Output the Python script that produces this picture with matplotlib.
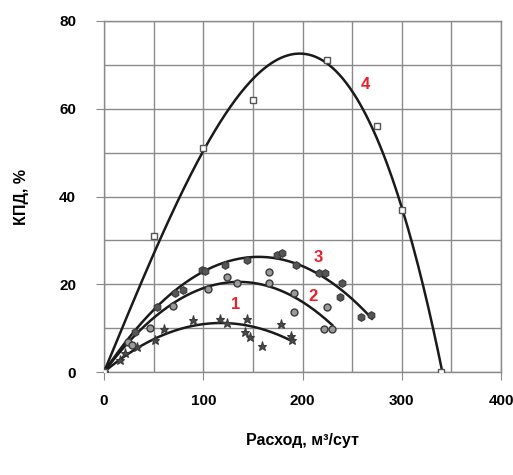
import numpy as np
import matplotlib.pyplot as plt
from matplotlib.ticker import MultipleLocator

plt.rcParams['font.family'] = ['Liberation Sans Narrow', 'Liberation Sans', 'DejaVu Sans']

# curve 1 (stars)
x1 = [0, 16, 21, 33, 51.5, 60, 90, 117, 124, 144, 142, 147.5, 159, 178, 188, 189.6]
y1 = [0, 2.7, 4.3, 5.8, 7.3, 9.7, 11.8, 12, 11.2, 12, 9.2, 7.9, 5.9, 10.9, 8.2, 7.3]
# curve 2 (circles)
x2 = [0, 24.5, 28, 46.5, 70, 105, 124, 134, 166, 166, 191, 191, 225, 221.5, 230]
y2 = [0, 6.9, 6.2, 10, 15, 18.9, 21.7, 20.2, 22.9, 20.3, 18.1, 13.7, 14.9, 9.7, 9.7]
# curve 3 (hexagons)
x3 = [0, 31, 53, 72, 80, 99, 102, 122, 144, 174, 179.5, 193, 216.5, 223, 240, 238, 258.6, 268.7]
y3 = [0, 9.2, 14.9, 17.9, 18.8, 23.2, 23.1, 24.5, 25.5, 26.6, 27.2, 24.5, 22.6, 22.5, 20.4, 17.2, 12.5, 13]
# curve 4 (squares)
x4 = [0, 50, 100, 150, 225, 275, 300, 340]
y4 = [0, 31, 51, 62, 71, 56, 37, 0]

fig = plt.figure(figsize=(5.13, 4.75), dpi=100)
ax = fig.add_axes([0.2027, 0.2168, 0.774, 0.739])

grid_c = '#8a8a8a'
pt_c = '#3a3a3a'

def trend(xs, ys, deg, x_end):
    # polynomial trend line forced through the origin
    xs = np.asarray(xs, float)
    A = np.column_stack([xs ** k for k in range(1, deg + 1)])
    c, *_ = np.linalg.lstsq(A, np.asarray(ys, float), rcond=None)
    xx = np.linspace(0, x_end, 200)
    yy = sum(c[k - 1] * xx ** k for k in range(1, deg + 1))
    return xx, yy

for xs, ys, deg, xe in [(x1, y1, 2, 190), (x2, y2, 2, 230), (x3, y3, 2, 270), (x4, y4, 3, 342)]:
    xx, yy = trend(xs, ys, deg, xe)
    ax.plot(xx, yy, color='#1a1a1a', lw=1.8, zorder=3)

ax.plot(x1, y1, ls='none', marker='*', ms=6.5, mfc='#4a4a4a', mec=pt_c, mew=0.8, zorder=4)
ax.plot(x2, y2, ls='none', marker='o', ms=5, mfc='#9a9a9a', mec=pt_c, mew=1.0, zorder=4)
ax.plot(x3, y3, ls='none', marker='h', ms=5.5, mfc='#555555', mec=pt_c, mew=0.8, zorder=4)
ax.plot(x4, y4, ls='none', marker='s', ms=4, mfc='white', mec='#555555', mew=1.0, zorder=4)

red = '#e8202a'
for t, tx, ty in [('1', 133, 15.3), ('2', 211, 17.3), ('3', 216, 26.2), ('4', 263, 65.6)]:
    ax.text(tx, ty, t, color=red, fontsize=12, fontweight='bold', ha='center', va='center', zorder=5)

ax.set_xlim(0, 400)
ax.set_ylim(0, 80)
ax.xaxis.set_major_locator(MultipleLocator(100))
ax.xaxis.set_minor_locator(MultipleLocator(50))
ax.yaxis.set_major_locator(MultipleLocator(20))
ax.yaxis.set_minor_locator(MultipleLocator(10))
ax.grid(which='both', color=grid_c, lw=1.0)
ax.set_axisbelow(True)
ax.tick_params(which='major', direction='out', length=6, color=grid_c, labelsize=11)
ax.tick_params(axis='x', pad=10)
ax.tick_params(axis='y', pad=14)
ax.tick_params(which='minor', length=0)
for lab in ax.get_xticklabels() + ax.get_yticklabels():
    lab.set_fontweight('bold')
for s in ax.spines.values():
    s.set_color(grid_c)
    s.set_linewidth(1.0)

ax.set_xlabel('Расход, м³/сут', fontsize=11.5, fontweight='bold', labelpad=18)
ax.set_ylabel('КПД, %', fontsize=11.5, fontweight='bold', labelpad=22)

fig.savefig('out.png', dpi=100)
